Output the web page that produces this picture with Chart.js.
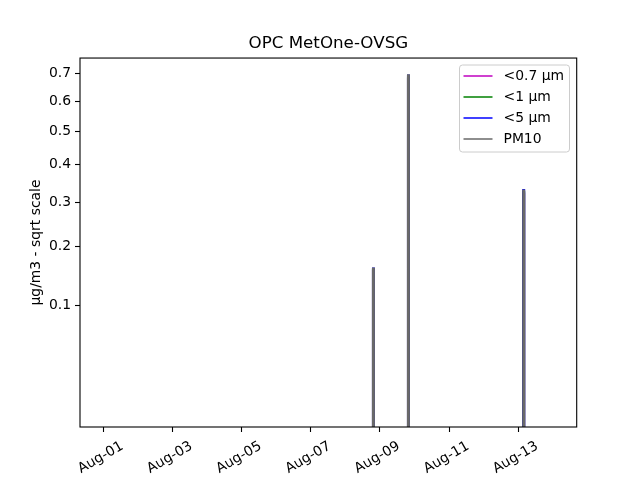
<!DOCTYPE html>
<html>
<head>
<meta charset="utf-8">
<script src="https://cdn.jsdelivr.net/npm/chart.js@4.4.0/dist/chart.umd.min.js"></script>
<style>
html,body{margin:0;padding:0;background:#fff;}
#wrap{width:640px;height:480px;}
</style>
</head>
<body>
<div id="wrap"><canvas id="c" width="640" height="480"></canvas></div>
<script>
// ---- data (x in hours since Aug-01 00:00) ----
const hours = [0,
  186.98, 187.0, 188.0, 188.02,
  211.28, 211.3, 212.3, 212.32,
  291.28, 291.3, 292.3, 292.32,
  313];
const pm07 = [0, 0, 0.155, 0.155, 0, 0, 0.680, 0.680, 0, 0, 0.322, 0.322, 0, 0];
const pm1  = [0, 0, 0.157, 0.157, 0, 0, 0.686, 0.686, 0, 0, 0.326, 0.326, 0, 0];
const pm5  = [0, 0, 0.159, 0.159, 0, 0, 0.693, 0.693, 0, 0, 0.331, 0.331, 0, 0];
const pm10 = [0, 0, 0.159, 0.159, 0, 0, 0.694, 0.694, 0, 0, 0.330, 0.330, 0, 0];
const seriesLabels = ['<0.7 µm', '<1 µm', '<5 µm', 'PM10'];
const yTickValues = [0.1, 0.2, 0.3, 0.4, 0.5, 0.6, 0.7];
const xTickHours = [0, 48, 96, 144, 192, 240, 288];
const xTickLabels = ['Aug-01', 'Aug-03', 'Aug-05', 'Aug-07', 'Aug-09', 'Aug-11', 'Aug-13'];

// ---- sqrt scale ----
class SqrtScale extends Chart.Scale {
  determineDataLimits() {
    const mm = this.getMinMax(true);
    this.min = this.options.min != null ? this.options.min : mm.min;
    this.max = this.options.max != null ? this.options.max : mm.max;
  }
  buildTicks() { return yTickValues.map(v => ({value: v})); }
  configure() {
    super.configure();
    this._s0 = Math.sqrt(Math.max(this.min, 0));
    this._s1 = Math.sqrt(Math.max(this.max, 0));
  }
  getPixelForValue(v) {
    if (v == null || isNaN(v)) return NaN;
    const s = Math.sqrt(Math.max(v, 0));
    return this.getPixelForDecimal((s - this._s0) / (this._s1 - this._s0));
  }
  getValueForPixel(p) {
    const d = this.getDecimalForPixel(p);
    const s = this._s0 + d * (this._s1 - this._s0);
    return s * s;
  }
  getLabelForValue(v) { return '' + v; }
}
SqrtScale.id = 'sqrt';
SqrtScale.defaults = {};
Chart.register(SqrtScale);

const FONT = 'DejaVu Sans';
const colors = ['#bf00bf', '#008000', '#0000ff', '#696969'];
const seriesData = [pm07, pm1, pm5, pm10];

const datasets = seriesData.map((arr, i) => ({
  label: seriesLabels[i],
  data: hours.map((h, j) => ({x: h, y: arr[j]})),
  borderColor: colors[i],
  backgroundColor: colors[i],
  borderWidth: 1.5,
  pointRadius: 0,
  tension: 0,
  fill: false,
  order: seriesData.length - i,
  yAxisID: 'y'
}));

const framePlugin = {
  id: 'frame',
  afterDatasetsDraw(chart) {
    const {ctx, chartArea: a} = chart;
    ctx.save();
    ctx.strokeStyle = '#000';
    ctx.lineWidth = 1.1;
    ctx.strokeRect(a.left, a.top, a.right - a.left, a.bottom - a.top);
    ctx.restore();
  },
  afterDraw(chart) {
    const ctx = chart.ctx;
    const bx = 459.5, by = 65, bw = 110, bh = 87, r = 3;
    ctx.save();
    ctx.beginPath();
    ctx.moveTo(bx + r, by);
    ctx.arcTo(bx + bw, by, bx + bw, by + bh, r);
    ctx.arcTo(bx + bw, by + bh, bx, by + bh, r);
    ctx.arcTo(bx, by + bh, bx, by, r);
    ctx.arcTo(bx, by, bx + bw, by, r);
    ctx.closePath();
    ctx.fillStyle = 'rgba(255,255,255,0.8)';
    ctx.fill();
    ctx.strokeStyle = '#cccccc';
    ctx.lineWidth = 1;
    ctx.stroke();
    const rows = [76, 97, 118, 139];
    ctx.font = '13.9px "' + FONT + '"';
    ctx.textBaseline = 'middle';
    ctx.textAlign = 'left';
    chart.data.datasets.forEach((ds, i) => {
      const y = rows[i];
      ctx.beginPath();
      ctx.moveTo(463.5, y);
      ctx.lineTo(492.5, y);
      ctx.strokeStyle = ds.borderColor;
      ctx.lineWidth = 1.5;
      ctx.stroke();
      ctx.fillStyle = '#000';
      ctx.fillText(ds.label, 503.5, y);
    });
    ctx.restore();
  }
};

new Chart(document.getElementById('c'), {
  type: 'line',
  data: {datasets},
  plugins: [framePlugin],
  options: {
    responsive: false,
    animation: false,
    devicePixelRatio: 1,
    layout: {padding: {left: 16.7, right: 0, top: 0, bottom: 0}},
    plugins: {
      legend: {display: false},
      tooltip: {enabled: false},
      title: {
        display: true,
        text: 'OPC MetOne-OVSG',
        color: '#000',
        font: {family: FONT, size: 16.7, weight: 'normal', lineHeight: 1.2},
        padding: {top: 34, bottom: 4}
      }
    },
    scales: {
      x: {
        type: 'linear',
        min: -16.17,
        max: 328.6,
        afterBuildTicks(scale) { scale.ticks = xTickHours.map(v => ({value: v})); },
        afterFit(scale) { scale.height = 53; },
        border: {display: false},
        grid: {display: true, drawOnChartArea: false, drawTicks: true, tickLength: 5, tickColor: '#000', tickWidth: 1.1},
        ticks: {
          color: '#000',
          font: {family: FONT, size: 13.9},
          minRotation: 30,
          maxRotation: 30,
          autoSkip: false,
          padding: 6,
          labelOffset: 19,
          callback(v) { const k = xTickHours.indexOf(v); return k >= 0 ? xTickLabels[k] : ''; }
        }
      },
      y: {
        type: 'sqrt',
        position: 'left',
        min: 0.001784,
        max: 0.7591,
        afterFit(scale) { scale.width = 63.3; },
        border: {display: false},
        grid: {display: true, drawOnChartArea: false, drawTicks: true, tickLength: 5, tickColor: '#000', tickWidth: 1.1},
        ticks: {
          color: '#000',
          font: {family: FONT, size: 13.9},
          padding: 4,
          autoSkip: false
        },
        title: {
          display: true,
          text: 'µg/m3 - sqrt scale',
          color: '#000',
          font: {family: FONT, size: 13.9, lineHeight: 1.2},
          padding: {top: 11, bottom: 0}
        }
      },
      y2: {
        type: 'linear',
        position: 'right',
        display: true,
        afterFit(scale) { scale.width = 63.3; },
        border: {display: false},
        grid: {display: false},
        ticks: {display: false}
      }
    }
  }
});
</script>
</body>
</html>
